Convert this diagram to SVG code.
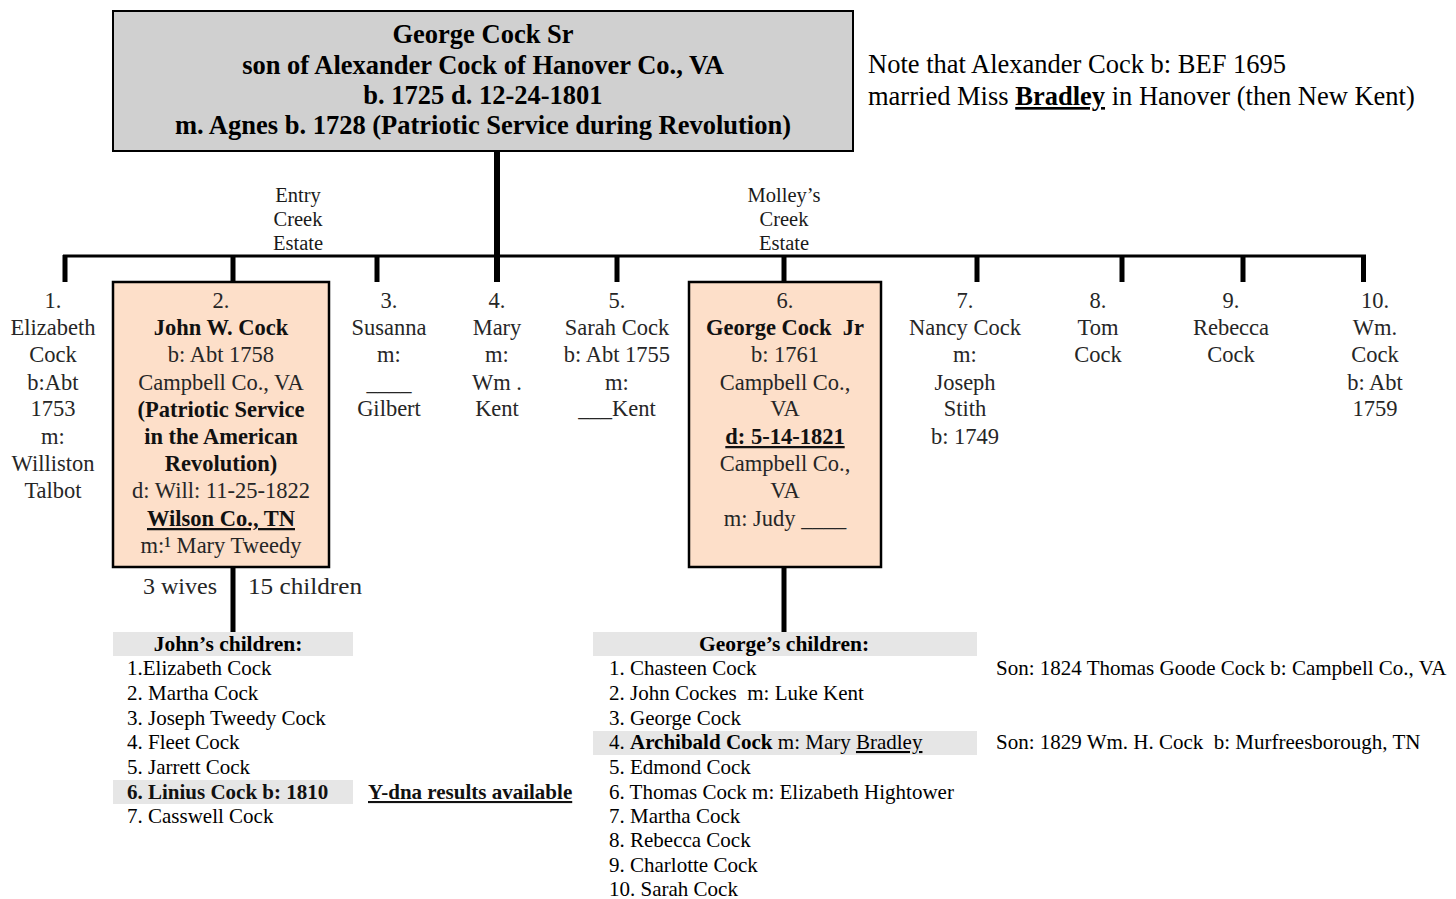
<svg xmlns="http://www.w3.org/2000/svg" width="1456" height="899" viewBox="0 0 1456 899">
<style>
.bg{fill:#ffffff}
.top{fill:#d0d0d0;stroke:#000;stroke-width:2}
.peach{fill:#fddfc9;stroke:#000;stroke-width:2.5}
.band{fill:#e6e6e6}
.t{font-family:"Liberation Serif","Times New Roman",serif;fill:#000}
.hd{font-size:26.5px;font-weight:bold;text-anchor:middle}
.ch{font-size:22.5px;text-anchor:middle;fill:#262626}
.b{font-weight:bold;fill:#111}
.u{text-decoration:underline}
.es{font-size:20.5px;text-anchor:middle;fill:#1a1a1a}
.ls{font-size:21px}
.lh{font-size:21.5px;font-weight:bold;text-anchor:middle}
.nt{font-size:26.5px}
.wire{fill:#000}
</style>
<rect class="bg" x="0" y="0" width="1456" height="899"/>

<g id="connectors">
  <rect class="wire" x="494" y="150" width="6" height="132"/>
  <rect class="wire" x="63" y="254.5" width="1303" height="3"/>
  <rect class="wire" x="62.5" y="255" width="5" height="27"/>
  <rect class="wire" x="230.5" y="255" width="5" height="27"/>
  <rect class="wire" x="374.5" y="255" width="5" height="27"/>
  <rect class="wire" x="614.5" y="255" width="5" height="27"/>
  <rect class="wire" x="781.5" y="255" width="5" height="27"/>
  <rect class="wire" x="974.5" y="255" width="5" height="27"/>
  <rect class="wire" x="1119.5" y="255" width="5" height="27"/>
  <rect class="wire" x="1240.5" y="255" width="5" height="27"/>
  <rect class="wire" x="1361" y="255" width="5" height="27"/>
  <rect class="wire" x="230.5" y="567" width="5" height="65"/>
  <rect class="wire" x="781.5" y="567" width="5" height="65"/>
</g>

<g id="george-sr">
  <rect class="top" x="113" y="11" width="740" height="140"/>
  <text class="t hd" x="483" y="43">George Cock Sr</text>
  <text class="t hd" x="483" y="74">son of Alexander Cock of Hanover Co., VA</text>
  <text class="t hd" x="483" y="104">b. 1725 d. 12-24-1801</text>
  <text class="t hd" x="483" y="134">m. Agnes b. 1728 (Patriotic Service during Revolution)</text>
</g>

<g id="note">
  <text class="t nt" x="868" y="73">Note that Alexander Cock b: BEF 1695</text>
  <text class="t nt" x="868" y="105">married Miss <tspan font-weight="bold" text-decoration="underline">Bradley</tspan> in Hanover (then New Kent)</text>
</g>

<g id="estate-entry">
  <text class="t es" x="298" y="202">Entry</text>
  <text class="t es" x="298" y="226">Creek</text>
  <text class="t es" x="298" y="250">Estate</text>
</g>
<g id="estate-molley">
  <text class="t es" x="784" y="202">Molley’s</text>
  <text class="t es" x="784" y="226">Creek</text>
  <text class="t es" x="784" y="250">Estate</text>
</g>

<g id="child1">
  <text class="t ch" x="53" y="308">1.</text>
  <text class="t ch" x="53" y="335">Elizabeth</text>
  <text class="t ch" x="53" y="362">Cock</text>
  <text class="t ch" x="53" y="390">b:Abt</text>
  <text class="t ch" x="53" y="416">1753</text>
  <text class="t ch" x="53" y="444">m:</text>
  <text class="t ch" x="53" y="471">Williston</text>
  <text class="t ch" x="53" y="498">Talbot</text>
</g>

<g id="child2">
  <rect class="peach" x="113" y="282" width="216" height="285"/>
  <text class="t ch" x="221" y="308">2.</text>
  <text class="t ch b" x="221" y="335">John W. Cock</text>
  <text class="t ch" x="221" y="362">b: Abt 1758</text>
  <text class="t ch" x="221" y="390">Campbell Co., VA</text>
  <text class="t ch b" x="221" y="417">(Patriotic Service</text>
  <text class="t ch b" x="221" y="444">in the American</text>
  <text class="t ch b" x="221" y="471">Revolution)</text>
  <text class="t ch" x="221" y="498">d: Will: 11-25-1822</text>
  <text class="t ch b u" x="221" y="526">Wilson Co., TN</text>
  <text class="t ch" x="221" y="553">m:¹ Mary Tweedy</text>
</g>

<g id="child3">
  <text class="t ch" x="389" y="308">3.</text>
  <text class="t ch" x="389" y="335">Susanna</text>
  <text class="t ch" x="389" y="362">m:</text>
  <text class="t ch" x="389" y="390">____</text>
  <text class="t ch" x="389" y="416">Gilbert</text>
</g>

<g id="child4">
  <text class="t ch" x="497" y="308">4.</text>
  <text class="t ch" x="497" y="335">Mary</text>
  <text class="t ch" x="497" y="362">m:</text>
  <text class="t ch" x="497" y="390">Wm .</text>
  <text class="t ch" x="497" y="416">Kent</text>
</g>

<g id="child5">
  <text class="t ch" x="617" y="308">5.</text>
  <text class="t ch" x="617" y="335">Sarah Cock</text>
  <text class="t ch" x="617" y="362">b: Abt 1755</text>
  <text class="t ch" x="617" y="390">m:</text>
  <text class="t ch" x="617" y="416">___Kent</text>
</g>

<g id="child6">
  <rect class="peach" x="689" y="282" width="192" height="285"/>
  <text class="t ch" x="785" y="308">6.</text>
  <text class="t ch b" x="785" y="335" xml:space="preserve">George Cock  Jr</text>
  <text class="t ch" x="785" y="362">b: 1761</text>
  <text class="t ch" x="785" y="390">Campbell Co.,</text>
  <text class="t ch" x="785" y="416">VA</text>
  <text class="t ch b u" x="785" y="444">d: 5-14-1821</text>
  <text class="t ch" x="785" y="471">Campbell Co.,</text>
  <text class="t ch" x="785" y="498">VA</text>
  <text class="t ch" x="785" y="526">m: Judy ____</text>
</g>

<g id="child7">
  <text class="t ch" x="965" y="308">7.</text>
  <text class="t ch" x="965" y="335">Nancy Cock</text>
  <text class="t ch" x="965" y="362">m:</text>
  <text class="t ch" x="965" y="390">Joseph</text>
  <text class="t ch" x="965" y="416">Stith</text>
  <text class="t ch" x="965" y="444">b: 1749</text>
</g>

<g id="child8">
  <text class="t ch" x="1098" y="308">8.</text>
  <text class="t ch" x="1098" y="335">Tom</text>
  <text class="t ch" x="1098" y="362">Cock</text>
</g>

<g id="child9">
  <text class="t ch" x="1231" y="308">9.</text>
  <text class="t ch" x="1231" y="335">Rebecca</text>
  <text class="t ch" x="1231" y="362">Cock</text>
</g>

<g id="child10">
  <text class="t ch" x="1375" y="308">10.</text>
  <text class="t ch" x="1375" y="335">Wm.</text>
  <text class="t ch" x="1375" y="362">Cock</text>
  <text class="t ch" x="1375" y="390">b: Abt</text>
  <text class="t ch" x="1375" y="416">1759</text>
</g>

<g id="john-counts">
  <text class="t ch" x="143" y="594" style="text-anchor:start" textLength="74" lengthAdjust="spacingAndGlyphs">3 wives</text>
  <text class="t ch" x="248" y="594" style="text-anchor:start" textLength="114" lengthAdjust="spacingAndGlyphs">15 children</text>
</g>

<g id="john-children">
  <rect class="band" x="113" y="632" width="240" height="24"/>
  <rect class="band" x="113" y="780" width="240" height="24"/>
  <text class="t lh" x="228" y="651">John’s children:</text>
  <text class="t ls" x="127" y="675">1.Elizabeth Cock</text>
  <text class="t ls" x="127" y="700">2. Martha Cock</text>
  <text class="t ls" x="127" y="725">3. Joseph Tweedy Cock</text>
  <text class="t ls" x="127" y="749">4. Fleet Cock</text>
  <text class="t ls" x="127" y="774">5. Jarrett Cock</text>
  <text class="t ls b" x="127" y="799">6. Linius Cock b: 1810</text>
  <text class="t ls" x="127" y="823">7. Casswell Cock</text>
  <text class="t ls b u" x="368" y="799">Y-dna results available</text>
</g>

<g id="george-children">
  <rect class="band" x="593" y="632" width="384" height="24"/>
  <rect class="band" x="593" y="731" width="384" height="24"/>
  <text class="t lh" x="784" y="651">George’s children:</text>
  <text class="t ls" x="609" y="675">1. Chasteen Cock</text>
  <text class="t ls" x="609" y="700" xml:space="preserve">2. John Cockes  m: Luke Kent</text>
  <text class="t ls" x="609" y="725">3. George Cock</text>
  <text class="t ls" x="609" y="749">4. <tspan font-weight="bold">Archibald Cock</tspan> m: Mary <tspan text-decoration="underline">Bradley</tspan></text>
  <text class="t ls" x="609" y="774">5. Edmond Cock</text>
  <text class="t ls" x="609" y="799">6. Thomas Cock m: Elizabeth Hightower</text>
  <text class="t ls" x="609" y="823">7. Martha Cock</text>
  <text class="t ls" x="609" y="847">8. Rebecca Cock</text>
  <text class="t ls" x="609" y="872">9. Charlotte Cock</text>
  <text class="t ls" x="609" y="896">10. Sarah Cock</text>
  <text class="t ls" x="996" y="675">Son: 1824 Thomas Goode Cock b: Campbell Co., VA</text>
  <text class="t ls" x="996" y="749" xml:space="preserve">Son: 1829 Wm. H. Cock  b: Murfreesborough, TN</text>
</g>
</svg>
